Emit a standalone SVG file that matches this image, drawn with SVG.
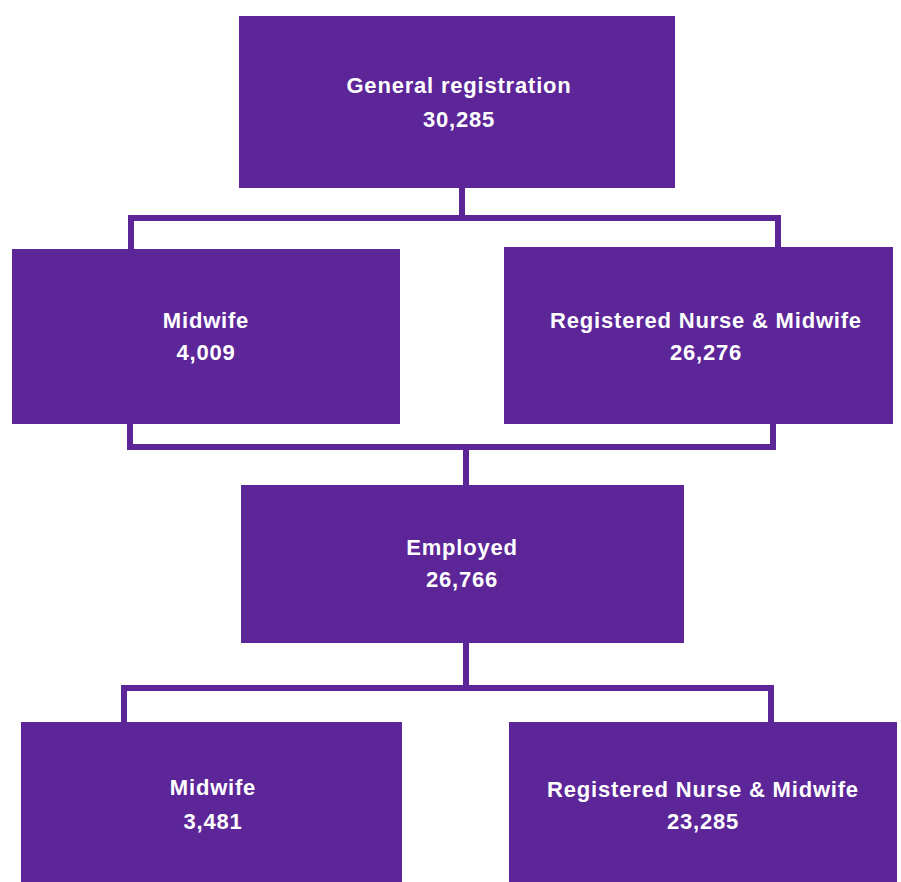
<svg xmlns="http://www.w3.org/2000/svg" width="901" height="882" viewBox="0 0 901 882">
<style>
.box{fill:#5c2699}
.t{fill:#fff;font-family:"Liberation Sans",Arial,sans-serif;font-weight:bold;font-size:22px;text-anchor:middle;letter-spacing:0.8px}
.c{fill:none;stroke:#5c2699;stroke-width:6}
</style>
<rect width="901" height="882" fill="#fff"/>
<g id="connectors">
<path class="c" d="M462 188V218M131 249V218H778V247"/>
<path class="c" d="M130 424V447H773V424M466 447V485"/>
<path class="c" d="M466 643V688M124 722V688H771V722"/>
</g>
<g id="general"><rect class="box" x="239" y="16" width="436" height="172"/><text class="t" x="459" y="93">General registration</text><text class="t" x="459" y="127">30,285</text></g>
<g id="midwife1"><rect class="box" x="12" y="249" width="388" height="175"/><text class="t" x="206" y="328">Midwife</text><text class="t" x="206" y="360">4,009</text></g>
<g id="rnm1"><rect class="box" x="504" y="247" width="389" height="177"/><text class="t" x="706" y="328">Registered Nurse &amp; Midwife</text><text class="t" x="706" y="360">26,276</text></g>
<g id="employed"><rect class="box" x="241" y="485" width="443" height="158"/><text class="t" x="462" y="555">Employed</text><text class="t" x="462" y="587">26,766</text></g>
<g id="midwife2"><rect class="box" x="21" y="722" width="381" height="160"/><text class="t" x="213" y="795">Midwife</text><text class="t" x="213" y="829">3,481</text></g>
<g id="rnm2"><rect class="box" x="509" y="722" width="388" height="160"/><text class="t" x="703" y="797">Registered Nurse &amp; Midwife</text><text class="t" x="703" y="829">23,285</text></g>
</svg>
